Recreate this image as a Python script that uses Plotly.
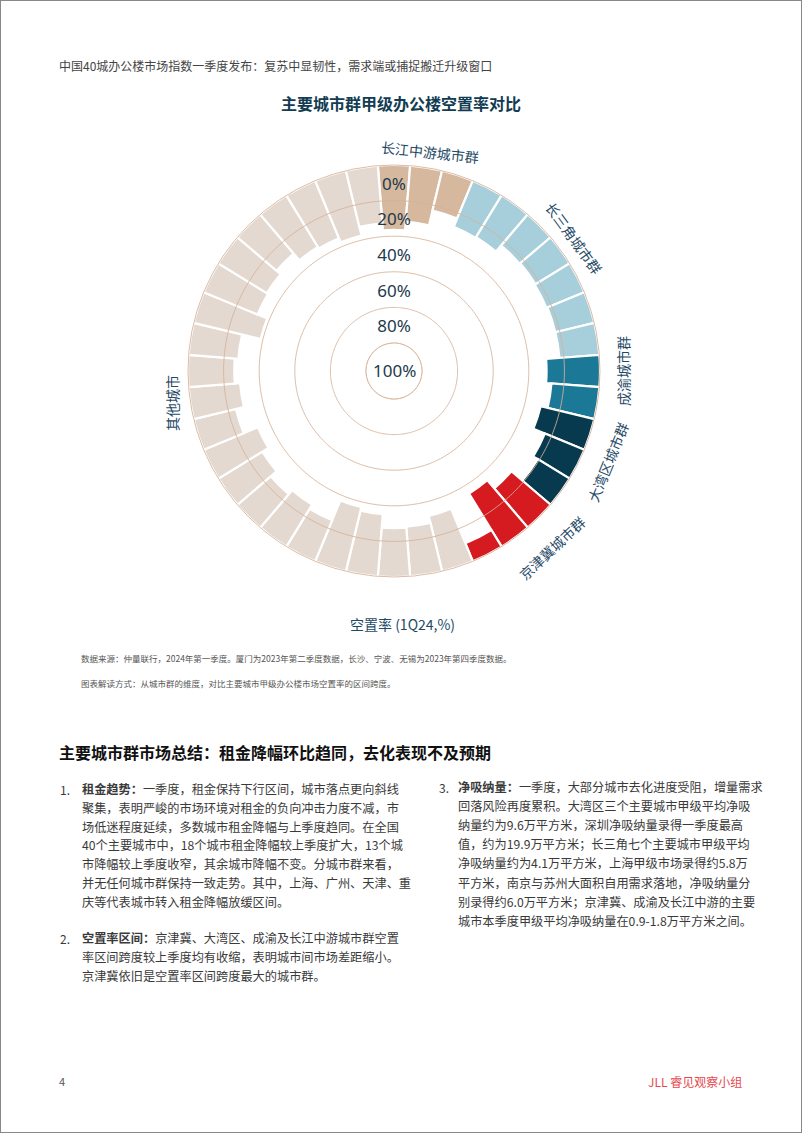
import numpy as np
import plotly.graph_objects as go

W, H = 802, 1133

# ---------------- data ----------------
group_names = ["长江中游城市群", "长三角城市群", "成渝城市群", "大湾区城市群", "京津冀城市群", "其他城市"]
vac_changjiang = [36.5, 31.5, 23.0]
vac_changsanjiao = [28.0, 27.5, 23.0, 22.5, 23.0, 22.5, 22.5]
vac_chengyu = [30.0, 27.0]
vac_dawanqu = [31.0, 24.0, 21.0]
vac_jingjinji = [29.0, 35.0, 11.0]
vac_other = [32.0, 28.0, 27.5, 35.0, 37.0, 25.0, 27.7, 24.7, 29.0, 33.0, 24.4,
             29.0, 26.0, 28.0, 38.7, 32.8, 32.0, 29.0, 34.0, 35.0, 37.5, 32.5]
group_colors = ["#d6b89e", "#a7cedb", "#1b7896", "#083a4f", "#d51b20", "#e4d9d1"]
radial_ticks = [0, 20, 40, 60, 80, 100]
radial_tick_labels = ["0%", "20%", "40%", "60%", "80%", "100%"]

groups = [vac_changjiang, vac_changsanjiao, vac_chengyu, vac_dawanqu, vac_jingjinji, vac_other]
n_total = sum(len(g) for g in groups)
step = 360.0 / n_total

GRID = "rgba(214,178,150,0.85)"
TXT = "#1f4a66"

fig = go.Figure()
idx = 0
for name, vals, col in zip(group_names, groups, group_colors):
    thetas = [(idx + k) * step for k in range(len(vals))]
    idx += len(vals)
    fig.add_trace(go.Barpolar(
        r=vals, theta=thetas, width=[step] * len(vals), name=name,
        marker=dict(color=col, line=dict(color="white", width=2.2)),
        hoverinfo="skip", showlegend=False))

# ring gridlines drawn over the bars
ring_theta = np.linspace(0, 360, 361)
for v in radial_ticks[1:]:
    fig.add_trace(go.Scatterpolar(
        r=[v] * len(ring_theta), theta=ring_theta, mode="lines",
        line=dict(color=GRID, width=1), hoverinfo="skip", showlegend=False))

# radial labels (placed mid-band like the reference)
fig.add_trace(go.Scatterpolar(
    r=[t + 11.5 for t in radial_ticks[:-1]], theta=[0] * (len(radial_ticks) - 1),
    mode="text", text=radial_tick_labels[:-1],
    textfont=dict(family="Noto Sans, Open Sans", size=17, color="#1d3a4c"),
    hoverinfo="skip", showlegend=False))

cx, cy, R = 394, 371, 206
fig.update_layout(
    width=W, height=H,
    margin=dict(l=0, r=0, t=0, b=0),
    paper_bgcolor="white", plot_bgcolor="white",
    polar=dict(
        domain=dict(x=[(cx - R) / W, (cx + R) / W], y=[1 - (cy + R) / H, 1 - (cy - R) / H]),
        hole=28 / 206,
        bgcolor="rgba(0,0,0,0)",
        radialaxis=dict(range=[100, 0], showgrid=False, showline=False,
                        showticklabels=False, ticks=""),
        angularaxis=dict(rotation=90, direction="clockwise", showgrid=False,
                         showticklabels=False, ticks="", showline=True,
                         linecolor=GRID, linewidth=1),
    ),
)

ann = []
def px(x, y):
    return x / W, 1 - y / H

def add_text(x, y, text, size, color="#333333", xanchor="left", angle=0,
             family="Noto Sans CJK SC", yanchor="middle"):
    xx, yy = px(x, y)
    ann.append(dict(x=xx, y=yy, xref="paper", yref="paper", text=text, showarrow=False,
                    xanchor=xanchor, yanchor=yanchor, textangle=angle,
                    font=dict(family=family, size=size, color=color)))

# center label
add_text(cx, 370, radial_tick_labels[-1], 17, "#1d3a4c", "center", family="Noto Sans, Open Sans")

# group labels around the ring
add_text(430, 152, group_names[0], 14, TXT, "center", 6)
add_text(574, 238, group_names[1], 14, TXT, "center", 54)
add_text(623, 371, group_names[2], 14, TXT, "center", -90)
add_text(608, 462, group_names[3], 14, TXT, "center", -68)
add_text(552, 548, group_names[4], 14, TXT, "center", -43)
add_text(172, 403, group_names[5], 14, TXT, "center", -90)

# header / titles
add_text(57, 66, "中国40城办公楼市场指数一季度发布：复苏中显韧性，需求端或捕捉搬迁升级窗口", 12, "#444444")
add_text(401, 103, "<b>主要城市群甲级办公楼空置率对比</b>", 16, "#123c52", "center")
add_text(402, 624, "空置率 (1Q24,%)", 14, "#1f4a66", "center")
add_text(79, 658, "数据来源：仲量联行，2024年第一季度。厦门为2023年第二季度数据，长沙、宁波、无锡为2023年第四季度数据。", 8.5, "#555555")
add_text(79, 683, "图表解读方式：从城市群的维度，对比主要城市甲级办公楼市场空置率的区间跨度。", 8.5, "#555555")

add_text(57, 752, "<b>主要城市群市场总结：租金降幅环比趋同，去化表现不及预期</b>", 16, "#111111")

item1 = ["<b>租金趋势：</b>一季度，租金保持下行区间，城市落点更向斜线",
         "聚集，表明严峻的市场环境对租金的负向冲击力度不减，市",
         "场低迷程度延续，多数城市租金降幅与上季度趋同。在全国",
         "40个主要城市中，18个城市租金降幅较上季度扩大，13个城",
         "市降幅较上季度收窄，其余城市降幅不变。分城市群来看，",
         "并无任何城市群保持一致走势。其中，上海、广州、天津、重",
         "庆等代表城市转入租金降幅放缓区间。"]
item2 = ["<b>空置率区间：</b>京津冀、大湾区、成渝及长江中游城市群空置",
         "率区间跨度较上季度均有收缩，表明城市间市场差距缩小。",
         "京津冀依旧是空置率区间跨度最大的城市群。"]
item3 = ["<b>净吸纳量：</b>一季度，大部分城市去化进度受阻，增量需求",
         "回落风险再度累积。大湾区三个主要城市甲级平均净吸",
         "纳量约为9.6万平方米，深圳净吸纳量录得一季度最高",
         "值，约为19.9万平方米；长三角七个主要城市甲级平均",
         "净吸纳量约为4.1万平方米，上海甲级市场录得约5.8万",
         "平方米，南京与苏州大面积自用需求落地，净吸纳量分",
         "别录得约6.0万平方米；京津冀、成渝及长江中游的主要",
         "城市本季度甲级平均净吸纳量在0.9-1.8万平方米之间。"]

BODY = "#3a3a3a"
add_text(58, 789, "1.", 12, BODY)
for k, line in enumerate(item1):
    add_text(80, 789 + k * 18.75, line, 12.2, BODY)
add_text(58, 938, "2.", 12, BODY)
for k, line in enumerate(item2):
    add_text(80, 938 + k * 19.2, line, 12.2, BODY)
add_text(437, 787, "3.", 12, BODY)
for k, line in enumerate(item3):
    add_text(456, 787 + k * 19.1, line, 12.2, BODY)

# footer
add_text(57, 1081, "4", 11, "#555555")
add_text(744, 1081, "JLL 睿见观察小组", 12, "#e5484d", "right")

fig.update_layout(annotations=ann,
                  shapes=[dict(type="rect", xref="paper", yref="paper", x0=0, y0=0, x1=1, y1=1,
                               line=dict(color="#888888", width=2))])

fig.write_html("out.html")
